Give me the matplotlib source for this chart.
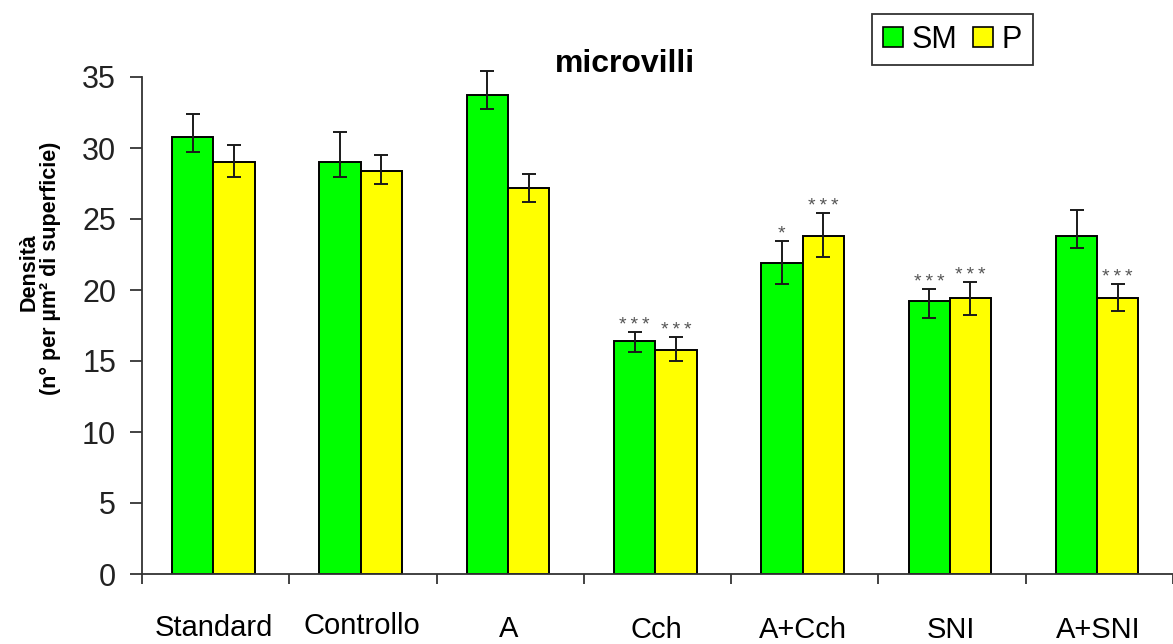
import numpy as np
import matplotlib
matplotlib.use("Agg")
import matplotlib.pyplot as plt
from matplotlib.patches import Patch
import matplotlib.transforms as mtransforms

# ---------------- data ----------------
categories = ["Standard", "Controllo", "A", "Cch", "A+Cch", "SNI", "A+SNI"]
sm_values = [30.8, 29.0, 33.75, 16.4, 21.9, 19.2, 23.8]
p_values = [29.0, 28.4, 27.2, 15.8, 23.8, 19.45, 19.45]
sm_err_plus = [1.6, 2.1, 1.65, 0.65, 1.55, 0.87, 1.85]
sm_err_minus = [1.05, 1.05, 1.0, 0.8, 1.5, 1.2, 0.82]
p_err_plus = [1.2, 1.1, 0.95, 0.9, 1.6, 1.1, 0.96]
p_err_minus = [1.05, 0.95, 1.0, 0.8, 1.45, 1.2, 0.96]
sm_sig = ["", "", "", "***", "*", "***", ""]
p_sig = ["", "", "", "***", "***", "***", "***"]
yticks = [0, 5, 10, 15, 20, 25, 30, 35]
title = "microvilli"
ylabel_line1 = "Densità"
ylabel_line2 = "(n° per µm² di superficie)"
series_names = ["SM", "P"]

# ---------------- style / layout ----------------
W, H = 1173, 644
GREEN = "#00FF00"
YELLOW = "#FFFF00"
FONT = "Liberation Sans"
plt.rcParams["font.family"] = [FONT, "DejaVu Sans"]

fig = plt.figure(figsize=(W / 100, H / 100), dpi=100)
ax = fig.add_axes([142 / W, (H - 574) / H, (W - 142) / W, (574 - 77) / H])

x = np.arange(len(categories))
bw = 0.28
sm_x = x - 0.155
p_x = x + 0.125

ax.bar(sm_x, sm_values, width=bw, color=GREEN, edgecolor="black", linewidth=1.4, zorder=2)
ax.bar(p_x, p_values, width=bw, color=YELLOW, edgecolor="black", linewidth=1.4, zorder=2)

ekw = dict(fmt="none", ecolor="#1a1a1a", elinewidth=1.4, capsize=5, capthick=1.4, zorder=3)
e1 = ax.errorbar(sm_x, sm_values, yerr=[sm_err_minus, sm_err_plus], **ekw)
e2 = ax.errorbar(p_x, p_values, yerr=[p_err_minus, p_err_plus], **ekw)
for e in (e1, e2):
    for art in e.lines[1] + e.lines[2]:
        art.set_clip_on(False)

# significance stars
for xs, vals, ep, sig in ((sm_x, sm_values, sm_err_plus, sm_sig), (p_x, p_values, p_err_plus, p_sig)):
    for xi, v, e, s in zip(xs, vals, ep, sig):
        if s:
            ax.annotate("\u2009".join(s), (xi, v + e), xytext=(0, 1.5), textcoords="offset points",
                        ha="center", va="baseline", fontsize=14, color="#555555")

ax.set_xlim(-0.5, len(categories) - 0.5)
ax.set_ylim(0, 35)
ax.set_yticks(yticks)
ax.set_yticklabels([str(t) for t in yticks], fontsize=22)
ax.tick_params(axis="y", direction="out", length=8.6, width=1.2, pad=10, colors="#222222")
ax.set_xticks(np.arange(-0.5, len(categories) + 0.5, 1))
ax.set_xticklabels([])
ax.tick_params(axis="x", direction="out", length=7, width=1.2, colors="#222222")
for side in ("top", "right"):
    ax.spines[side].set_visible(False)
for side in ("left", "bottom"):
    ax.spines[side].set_linewidth(1.3)
    ax.spines[side].set_color("#333333")
    ax.spines[side].set_clip_on(False)

# category labels (slightly staggered as in the reference)
label_baselines = [636, 634, 637, 638, 638, 638, 638]
trans = mtransforms.blended_transform_factory(ax.transData, fig.transFigure)
for xi, lab, b in zip(x, categories, label_baselines):
    ax.text(xi - 0.01, 1 - b / H, lab, transform=trans, ha="center", va="baseline",
            fontsize=21, color="black", clip_on=False)

# title
fig.text(625 / W, 1 - 72 / H, title, ha="center", va="baseline", fontsize=23, fontweight="bold")

# y label
fig.text(29 / W, 1 - 272 / H, ylabel_line1, rotation=90, ha="center", va="center",
         fontsize=15.5, fontweight="bold")
fig.text(50 / W, 1 - 268 / H, ylabel_line2, rotation=90, ha="center", va="center",
         fontsize=15.5, fontweight="bold")

# legend
handles = [Patch(facecolor=GREEN, edgecolor="black", linewidth=1.2),
           Patch(facecolor=YELLOW, edgecolor="black", linewidth=1.2)]
leg = fig.legend(handles, series_names, loc="upper left", bbox_to_anchor=(872 / W, 1 - 14 / H),
                 ncol=2, fontsize=22, frameon=True, fancybox=False, borderpad=0.35,
                 handlelength=0.65, handleheight=0.65, handletextpad=0.3, columnspacing=0.5,
                 borderaxespad=0)
leg.get_frame().set_edgecolor("black")
leg.get_frame().set_linewidth(1.3)

fig.savefig("out.png", dpi=100)
